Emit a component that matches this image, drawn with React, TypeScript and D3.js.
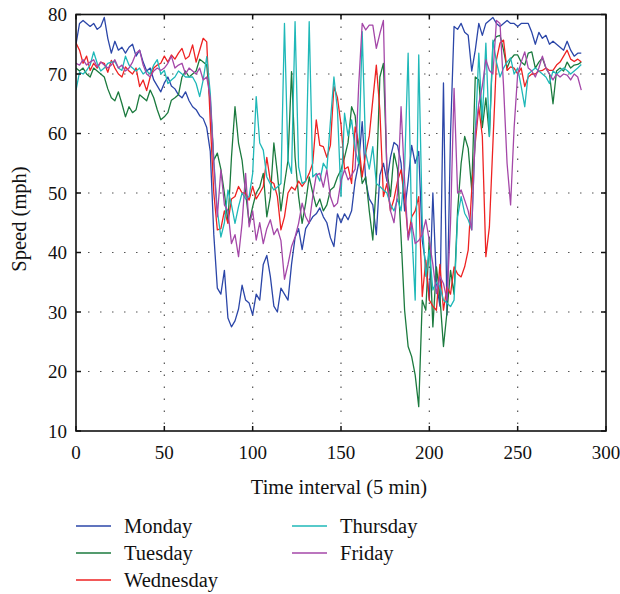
import React from 'react';
import * as d3 from 'd3';

// time step between stored samples (5-min intervals)
const STEP = 2;

const xTicks = [0, 50, 100, 150, 200, 250, 300];
const yTicks = [10, 20, 30, 40, 50, 60, 70, 80];

const monday = [
  75, 78.5, 79, 78.5, 78, 78.5, 77.5, 78, 79.5, 76,
  73.5, 75.5, 74, 74.5, 73.5, 74.5, 75, 73, 74, 72,
  70.5, 71, 69, 68, 67, 68.5, 69.5, 68, 67.5, 66.5,
  66, 67, 65.5, 64.5, 64, 63, 62.5, 61, 57, 43,
  34, 33, 37, 29, 27.5, 28.5, 30.5, 34.5, 32, 31.5,
  29.5, 33, 32, 38, 39.5, 36, 31, 30, 34, 33,
  32, 38, 42.5, 44, 40.5, 44, 45, 46, 46.5, 47.5,
  46, 45, 42.5, 41, 46.5, 45, 46.5, 45.5, 47, 52,
  55, 62, 52, 49, 48, 43, 53, 55, 52, 56,
  58.5, 58, 55, 47, 52, 58, 55, 57, 42, 38,
  32, 50, 35, 31, 68.5, 29.5, 60, 78, 77.5, 78.5,
  77, 76.5, 70.5, 74, 78.5, 76.5, 78.5, 79, 79.5, 78.5,
  78, 78.5, 79, 78.5, 78.5, 78, 78.5, 78.5, 78.5, 77,
  75, 77, 76, 76.5, 75, 75.5, 75, 74.5, 74, 75.5,
  74, 73, 73.5, 73.5,
];

const tuesday = [
  71, 70.5, 71, 70, 69.5, 71, 70.5, 70, 69.5, 67.5,
  66, 65.5, 67, 65, 62.8, 64.5, 63.5, 64, 66.5, 66,
  65.5, 67.3, 66, 64, 62.3, 62.8, 63.5, 65.6, 66, 66.5,
  69.5, 70.5, 69.5, 70, 70.5, 72.5, 72, 71.5, 65, 55.5,
  56.7, 54, 50, 45, 56, 64.5, 58.4, 55.5, 50, 45,
  47.7, 50, 51, 53.3, 46, 49.4, 58.4, 53.3, 47, 51.6,
  55.5, 70.4, 56, 49.4, 44.9, 48.3, 52.7, 50, 47.7, 49,
  47, 48, 50.5, 51, 52.7, 53.9, 56, 58.5, 64.5, 63,
  56.7, 51.6, 52.7, 47, 42.1, 51.6, 69.5, 71.8, 53.9, 49.4,
  56.7, 54, 42.6, 30.3, 24.2, 22.5, 19.4, 14.1, 32, 30.3,
  42.6, 27.5, 37.6, 32.5, 24.2, 30, 37, 33, 47, 55,
  59.5, 57.5, 50.5, 69.5, 69, 61, 66, 59.5, 75.2, 76.3,
  76.5, 74, 71, 72.5, 73.2, 73.2, 72, 71.5, 73.5, 73.7,
  71, 72, 72.7, 71, 70, 65, 70.5, 71, 70.5, 72,
  71, 71.5, 71.6, 72,
];

const wednesday = [
  75.2, 74, 71.8, 73, 70.6, 71.8, 71, 72, 71.8, 70.3,
  72.3, 71, 70, 69.5, 71.2, 70.5, 70, 71, 67.9, 69,
  67.2, 69.5, 71, 71.5, 71.8, 73, 72, 73.2, 72.5, 73.5,
  74.3, 72.5, 73, 74.9, 72, 74, 76, 75.4, 62, 50,
  43.8, 44, 47, 44.9, 49, 49.4, 51.1, 50, 50, 48.8,
  51.1, 49, 50, 51.1, 56, 52, 51.6, 49.4, 43.8, 46,
  50, 51, 50.5, 52, 51.1, 52, 53.3, 55, 62.3, 58,
  57.8, 56, 58, 67.9, 66, 61.5, 54, 54.4, 51.6, 61.1,
  58.4, 52.7, 56.7, 59.6, 65.6, 71.5, 63.9, 49.4, 51.6, 47,
  49, 52, 53.9, 49.4, 42.6, 46, 47, 49.4, 32.6, 38.7,
  32, 31, 30.3, 38, 30.3, 34.2, 33, 37.6, 36.4, 35.9,
  37.6, 40.4, 50.5, 58.4, 64.5, 59.5, 39.3, 44.3, 58.4, 72.4,
  75.2, 75.7, 70.6, 71.2, 71, 70, 71, 67.9, 69.5, 70,
  70, 70.5, 70.6, 71, 70.6, 70.6, 71.5, 72, 73, 74,
  72.5, 72.1, 72.5, 72,
];

const thursday = [
  67.3, 70.3, 70, 70.6, 71.5, 73.7, 71.8, 70.5, 71, 71.8,
  72, 72.1, 71, 70.6, 73, 71.5, 71, 70.5, 71, 70,
  70.5, 70, 71.5, 72.4, 70, 70.6, 68.4, 69, 69.5, 70.5,
  70, 69.5, 69.5, 69.5, 68.4, 66.2, 69, 72.9, 66.8, 55.5,
  47, 42.6, 45, 50.5, 48, 44.9, 47.7, 50, 49, 49.4,
  53.3, 66.2, 58.4, 57.2, 52.7, 51.5, 50.5, 51, 51.6, 78.5,
  55.5, 53.3, 78.8, 54.4, 51.6, 52, 78.8, 52.7, 53.3, 52,
  55, 54, 62, 69.5, 63.9, 49.4, 63.4, 59.6, 62.3, 57.2,
  55, 77.1, 56.7, 54, 57.8, 51.6, 51.1, 50.5, 50, 48,
  47, 49, 47, 54, 73.5, 44, 32, 73.2, 45, 36,
  40.4, 33.7, 35, 34.2, 32, 31.5, 30.9, 32, 46, 49.4,
  46.6, 45.5, 43.8, 60, 73.5, 62.3, 75.2, 59.5, 75.7, 72,
  69.5, 71, 72, 72.7, 70, 71, 67.9, 64.5, 70, 70.5,
  71, 70.5, 70, 69.5, 68.4, 70.5, 70, 70.5, 71, 70.6,
  70, 70.5, 71, 71.6,
];

const friday = [
  71.8, 71.5, 72.4, 71.5, 72, 72.4, 71.2, 72, 71.5, 71,
  71.5, 72.4, 71, 71.5, 70.5, 71, 72, 73.5, 74, 71.5,
  70, 69.5, 70.5, 71, 70.6, 71, 71.8, 73, 71, 71.5,
  71.8, 70, 71, 70.5, 70, 71, 69, 69.5, 66, 55,
  46, 53.9, 48, 47, 41.5, 43, 39.3, 44.9, 53.3, 44.3,
  47, 42.1, 45, 41.5, 44, 45.5, 43, 44, 42, 35.5,
  38, 41, 42.6, 44.9, 48.3, 46, 44.9, 49.4, 53, 53.3,
  51, 53.9, 49.4, 47.7, 48.3, 52, 53.9, 52.2, 53, 54,
  68, 78.5, 77.4, 78.2, 78.2, 74.3, 76.8, 79, 53, 47,
  45, 50, 64.5, 52, 42.1, 45, 41.5, 42, 43, 45.5,
  42, 38, 33.1, 36, 34.8, 32, 45, 67.6, 50, 50.5,
  48.8, 47, 43.8, 60, 65, 68, 72.4, 70.6, 70, 79,
  78.5, 68, 55, 48, 61, 70, 72, 73.7, 71, 70.5,
  69.5, 71, 73, 71, 70, 69, 70, 69.5, 70, 69.8,
  69, 70, 69.5, 67.3,
];

const seriesNames = ['Monday', 'Tuesday', 'Wednesday', 'Thursday', 'Friday'];
const seriesValues = [monday, tuesday, wednesday, thursday, friday];
const seriesColors = ['#2b46a8', '#1b7a3e', '#ee2222', '#1fb8b8', '#a447a8'];

const FONT = '"Liberation Serif", "Times New Roman", serif';

export default function App() {
  const left = 76, right = 606, top = 14.5, bottom = 431;
  const x = d3.scaleLinear().domain([0, 300]).range([left, right]);
  const y = d3.scaleLinear().domain([10, 80]).range([bottom, top]);
  const line = d3
    .line<number>()
    .x((_, i) => x(i * STEP))
    .y((d) => y(d));

  const legendPos = [
    [76, 526], [76, 553], [76, 580], [292, 526], [292, 553],
  ];

  return (
    <svg
      width={620}
      height={594}
      style={{ position: 'absolute', left: 0, top: 0, background: '#fff' }}
      fontFamily={FONT}
    >
      <defs>
        <clipPath id="plot">
          <rect x={left} y={top} width={right - left} height={bottom - top} />
        </clipPath>
      </defs>
      {/* grid */}
      {xTicks.slice(1, -1).map((t) => (
        <line key={'gx' + t} x1={x(t)} x2={x(t)} y1={top} y2={bottom}
          stroke="#555" strokeWidth={1.2} strokeDasharray="1.5 10.5" />
      ))}
      {yTicks.slice(1, -1).map((t) => (
        <line key={'gy' + t} x1={left} x2={right} y1={y(t)} y2={y(t)}
          stroke="#555" strokeWidth={1.2} strokeDasharray="1.5 10.5" />
      ))}
      {/* series */}
      <g clipPath="url(#plot)">
        {seriesValues.map((vals, k) => (
          <path key={seriesNames[k]} d={line(vals) || ''} fill="none"
            stroke={seriesColors[k]} strokeWidth={1.3} strokeLinejoin="round" />
        ))}
      </g>
      {/* frame */}
      <rect x={left} y={top} width={right - left} height={bottom - top}
        fill="none" stroke="#111" strokeWidth={1.6} />
      {xTicks.map((t) => (
        <g key={'tx' + t}>
          <line x1={x(t)} x2={x(t)} y1={bottom} y2={bottom - 5} stroke="#111" strokeWidth={1.5} />
          <line x1={x(t)} x2={x(t)} y1={top} y2={top + 5} stroke="#111" strokeWidth={1.5} />
          <text x={x(t)} y={459} textAnchor="middle" fontSize={19} fill="#111">{t}</text>
        </g>
      ))}
      {yTicks.map((t) => (
        <g key={'ty' + t}>
          <line x1={left} x2={left + 5} y1={y(t)} y2={y(t)} stroke="#111" strokeWidth={1.5} />
          <line x1={right} x2={right - 5} y1={y(t)} y2={y(t)} stroke="#111" strokeWidth={1.5} />
          <text x={67} y={y(t) + 6.5} textAnchor="end" fontSize={19} fill="#111">{t}</text>
        </g>
      ))}
      <text x={339} y={494} textAnchor="middle" fontSize={20.5} fill="#111">Time interval (5 min)</text>
      <text transform="translate(26,219) rotate(-90)" textAnchor="middle" fontSize={20.5} fill="#111">Speed (mph)</text>
      {/* legend */}
      {seriesNames.map((n, k) => (
        <g key={'lg' + n}>
          <line x1={legendPos[k][0]} x2={legendPos[k][0] + 35} y1={legendPos[k][1]} y2={legendPos[k][1]}
            stroke={seriesColors[k]} strokeWidth={1.3} />
          <text x={legendPos[k][0] + 48} y={legendPos[k][1] + 6.5} fontSize={20.5} fill="#111">{n}</text>
        </g>
      ))}
    </svg>
  );
}
